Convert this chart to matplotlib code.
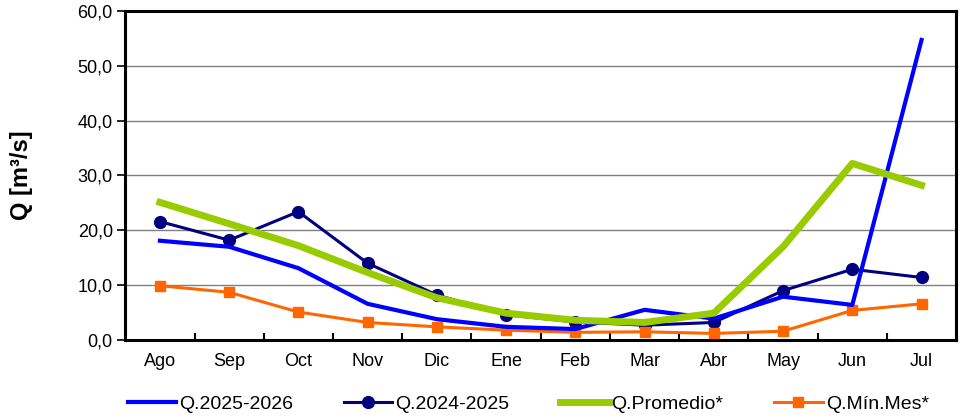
import numpy as np
import matplotlib
matplotlib.use('Agg')
import matplotlib.pyplot as plt
from matplotlib.ticker import FuncFormatter, FixedLocator

plt.rcParams['font.family'] = ['Liberation Sans', 'DejaVu Sans']

meses = ['Ago', 'Sep', 'Oct', 'Nov', 'Dic', 'Ene', 'Feb', 'Mar', 'Abr', 'May', 'Jun', 'Jul']
q2526 = [18.1, 17.0, 13.1, 6.6, 3.8, 2.4, 2.0, 5.5, 3.9, 7.9, 6.4, 54.7]
q2425 = [21.6, 18.2, 23.4, 14.0, 8.2, 4.6, 3.3, 2.7, 3.2, 9.0, 12.9, 11.4]
qprom = [25.1, 21.2, 17.2, 12.3, 7.7, 4.9, 3.6, 3.2, 4.9, 17.0, 32.2, 28.2]
qmin = [9.9, 8.7, 5.1, 3.2, 2.4, 1.8, 1.4, 1.5, 1.2, 1.6, 5.4, 6.6]

x = np.arange(len(meses))

fig = plt.figure(figsize=(9.6, 4.19), dpi=100)
ax = fig.add_axes([0.1305, 0.1885, 0.8655, 0.7855])

ax.plot(x, q2526, color='#0000FF', lw=3.0, label='Q.2025-2026', zorder=4)
ax.plot(x, q2425, color='#000080', lw=2.2, marker='o', markersize=8.5, label='Q.2024-2025', zorder=3)
ax.plot(x, qprom, color='#99CC00', lw=5.0, label='Q.Promedio*', zorder=5)
ax.plot(x, qmin, color='#FF6600', lw=2.2, marker='s', markersize=7.5, label='Q.Mín.Mes*', zorder=3)

ax.set_xlim(-0.5, 11.5)
ax.set_ylim(0, 60)
ax.set_yticks(np.arange(0, 61, 10))
ax.yaxis.set_major_formatter(FuncFormatter(lambda v, p: ('%.1f' % v).replace('.', ',')))
ax.yaxis.grid(True, color='#808080', lw=1.0)
ax.set_axisbelow(True)

ax.set_xticks(x)
ax.set_xticklabels(meses)
ax.xaxis.set_minor_locator(FixedLocator(np.arange(0.5, 11, 1)))
ax.tick_params(axis='x', which='major', length=0, pad=9, labelsize=13)
ax.tick_params(axis='x', which='minor', direction='in', length=5, width=1.5)
ax.tick_params(axis='y', length=6, width=1.2, labelsize=13, pad=3)

for s in ax.spines.values():
    s.set_linewidth(2.2)

ax.set_ylabel('Q [m³/s]', fontsize=17, fontweight='bold', labelpad=32)

ax.legend(loc='center', bbox_to_anchor=(0.485, -0.195), ncol=4, frameon=False,
          fontsize=14, handlelength=2.5, handletextpad=0.15, columnspacing=2.6)

fig.savefig('out.png', dpi=100)
